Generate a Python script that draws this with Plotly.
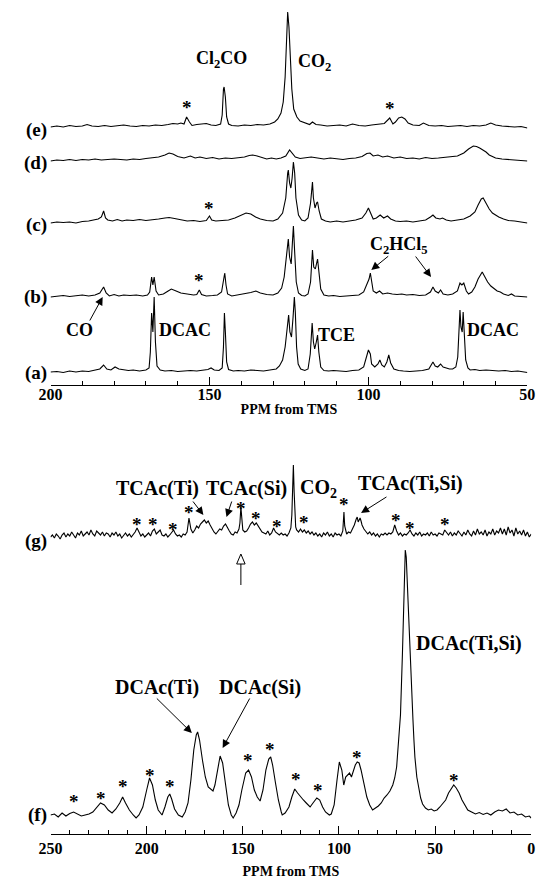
import plotly.graph_objects as go

# ---------------- data (ppm, intensity above each trace's baseline) ----------------
E_PPM = [200,198,196,194,192,190,188.5,187,185,183,181,179,177,175,173,171,169,167,165,163,161.5,160,159,158,157.2,156.3,155.5,154,152.5,151,149.5,148,146.5,146,145.6,145.4,145.0,144.6,144,143,141,139,137,135,133,131,129.5,128.5,127.5,126.8,126.2,125.8,125.4,125.0,124.6,124.1,123.5,122.5,121.5,120,118.5,117.6,116.5,115,113,111,109,107,105,103,101,99,97,95,93.3,92.3,91.5,90.5,89.5,88.5,87.5,86,84,82.7,81,79,77,75,73,71,69,67,65,63,61.5,60,58,56,54,52,50]
E_INT = [0,1,0,1.5,0.5,1,2.5,1,0.5,1.5,0.5,1,2,1,0.5,1.5,1,2,1.5,2.5,3.5,3,4,3,10,5,1.5,2.5,3,3.5,2,1.5,3,12,38,40,30,10,3,1.5,1,2,1.5,2.5,2,3,5,8,14,25,50,85,115,100,70,38,18,10,6,4,2.5,5,2.5,2,1,1.5,2,1,3,1.5,1,2,2.5,3.5,9,3,5,9,10,8,4,2,1.5,4,1.5,1,1.5,0.5,1,1.5,0.5,1.5,1,2,4,2,1,0.5,0,0.5,-1]

D_PPM = [200,198,196,194,192,190,188,186,184,182,180,178,176,174,172,170,168,166,164,162.7,161.5,160,158,156,154.5,153,151,149,147,145,143,141,139,137.5,136.4,135,133.5,132,130.5,129,127.5,126,124.8,124,123,121.5,120,118,116,114,112,110,108,106,104,102,100.5,99.5,98.5,97,95.5,94,92,90,88,86,84,82,80,78,76,74,72,70,68.5,67,66,65,64,63,62,61,60,58,56,54,52,50]
D_INT = [0,1,0.5,1.5,0.5,1.5,1,2,1,1.5,2,1.5,1,2,1.5,2.5,3,4,6,8,7,4.5,3,5,3,4,2.5,3.5,2,3,2.5,3,4,5.5,6,5,3.5,2,3,2,3,5,11,8,4,2.5,3,4,3,2,3,2,1.5,2.5,3,4.5,7.5,8,5,6,4,5,3,4,2.5,3,2,3.5,2.5,3,3.5,4,5,8,12,15,14.5,13,11,9,6,4.5,3,2,1.5,1,0.5,0]

C_PPM = [200,198,196,194,192,190,188,186,185,184,183.3,182.7,182,180.5,179,177.5,176,174,172,170,168,166,164,162.7,161,159,157,155,153,151,150,149.3,148,146,144,142,140,138.5,137,135.5,134,132,130,128.5,127,126,125.4,125.2,124.8,124.4,124,123.6,123.2,122.8,122,121,120,119,118.2,117.8,117.6,117.3,116.8,116.3,116,115.5,114.8,113.5,112,110,108,106,104,102,100.8,100,99.4,98.5,97.5,96.3,95.2,94,93,91.5,90,88,86,84,82,80.5,79.7,78.8,77.5,76.7,75.5,74,72,70,68,66.5,65.5,64.5,63.9,63,62,61,60,59,57.5,56,54,52,50]
C_INT = [0,1,0.5,1,0,1.5,2,3,4,6,12,5,3,2,3.5,2,3,2.5,3.5,2.5,3,4,5,5.5,4.5,3,2,2.5,1.5,2.5,7,3,2,2.5,3,5,7.5,10,9,6,4,2.5,2,4,10,25,50,53,40,35,45,61,50,25,8,3,2,5,20,38,41,25,15,20,21,12,4,2,1,2,1,2,3,5,10,15,10,4,5,8,5,7,4,2,1.5,2,1,2,3,6,8,5,4,5,3,2,3,4,7,11,18,24,25,20,14,10,8,6,4,2.5,2,1,0]

B_PPM = [200,198,196,194,192,190,188,186,184.5,183.3,182.5,181.5,180,178.5,177,175,173,171,169.5,168.8,168.2,167.8,167.4,166.8,166,164.5,163,162,160.5,159,157,155,154,153.2,152.5,151,149,147.5,146.2,145.6,145.2,144.8,144.3,143,141,139,137,135.4,134,132,130,128.5,127.3,126.5,125.6,125.2,124.8,124.3,123.9,123.6,123.2,122.7,122,121,120,119,118.2,117.9,117.6,117.2,116.7,116,115.6,115,114,112.5,111,109,107,105,103,101.5,100.5,99.8,99.4,99,98.5,97.5,96.5,95.5,94,92.5,91,89.5,88,86,84,82,80.5,79.7,79,78,77.3,76.5,75,73.5,72,71.2,70.6,70,69.2,68.5,67.5,66.5,65.5,64.2,63.5,62.5,61.5,60.5,59.5,58.5,57.5,56,55,54,52,50]
B_INT = [0,0.5,1.5,0.5,1,2,1,2,4,10,4,1,2.5,1,2,1.5,2,1,2,5,20,12,20,6,2,3,6,8,6,4,3,2,2.5,7,2.5,1,1.5,2,5,18,24,12,3,1,2,3,4.5,6,4,2.5,2,4,9,20,45,58,40,33,55,71,45,15,4,1.5,1,3,15,35,47,30,28,38,25,8,2,1,1.5,0.5,1,1.5,2,5,12,18,24,15,6,4,6,3,4,3,2.5,3,2,2.5,1.5,2,5,10,6,4,7,3,2,3,6,14,12,14,6,3,5,10,18,25,21,15,11,8,6,5,3,1.5,3,1,0.5,0]

A_PPM = [200,198,196,194,192,190,188,186,184.5,183.3,182.3,181,179.7,178.5,177,175.5,174,172,170,169,168.6,168.2,167.8,167.4,167.0,166.5,165.5,164,162,160,158,156,154,152,150.5,149.5,148.5,147,146,145.6,145.3,145.0,144.6,144,142.5,141,139,137,135,133,131,129,128,127,126.2,125.6,125.1,124.7,124.2,123.7,123.3,123.0,122.6,122.1,121.3,120,119,118.3,118,117.7,117.3,116.9,116.4,116.0,115.6,115,114,112.5,111,109,107,105,103,101.5,100.5,100,99.4,99,98,97,96.4,95.8,95,94.2,93.6,93,92,90.5,89,87,85,83,81,80.3,79.7,79,78.2,77.3,76.5,75.5,74.5,73.5,72.5,71.9,71.5,71.2,70.9,70.5,70.2,69.8,69.4,68.7,68,66.5,65,63,61,59,57,55,53,51,50]
A_INT = [0,0.5,-0.5,1,0,1,0.5,1.5,3,7,3,2,5,3,2,1.5,2,1,2,4,20,59,40,75,30,6,2,1,1.5,0.5,1,1.5,1,2,2.5,4,2,1.5,4,25,59,40,10,2.5,1,1.5,1,2,1.5,1,2,3,6,12,25,45,57,40,35,55,75,60,25,8,3,1.5,3,18,40,49,30,23,30,37,20,5,1.5,1,1.5,1,0.5,1.5,2,5,15,22,18,8,5,8,12,7,5,10,17,9,3,1.5,1,0.5,1,1.5,3,7,10,6,5,8,5,4,3,3,5,15,45,62,45,40,60,35,12,4,2,2.5,1.5,2,1.5,1,1.5,0.5,1,0,-0.5]

F_PPM = [250,248,246,244,242,240,238,236,234,232,230,228,226,224,222,220,218,216,214,212.5,211,209,207,205.5,204,202,200,198.5,197,195.5,194,192,190.5,189,188,187,185.5,183.5,181.5,180,178.5,177,175.5,174.2,173.5,172.5,171,169.5,168,166.5,165.5,164.5,163,161.8,160.5,159,157.5,156,155,153.5,152,150.5,148.5,147,145.5,144,142.5,141,139.5,138,136.5,135.5,134.5,133,131.5,130,129.5,128,126,124.5,123,121.5,120,118.5,117,115,113.5,111.5,110,108.5,107,105,104,102.5,101,99.8,98.5,97.5,96.5,95.5,94.5,93.5,92.5,91.5,90.5,89.5,88.5,87,85.5,84,82.5,81,79.5,78,76.5,75,73.5,72,71,70,69,68,67,66.2,65.5,65,64.3,63.5,62.5,61.5,61,60.5,59.5,58.5,57.5,56.5,55,53.5,52,50.5,49,47.5,46,44.5,43,41.5,40.3,39,37.5,36,34.5,33,31,29,27,25,23,21,19,17,15,13,11,9,7,5,3,1,0]
F_INT = [0,1,-2,2,-1,1.5,3,1,-1,0,1,3,7,12,10,5,2,6,12,18,12,5,0,-3,0,8,25,37,30,15,5,0,8,18,21,16,6,0,-2,3,12,35,65,80,83,75,55,38,28,25,24,30,48,59,52,30,10,0,-3,2,10,25,42,45,38,25,18,14,25,45,56,58,50,32,15,3,0,2,8,18,26,22,18,15,12,8,12,17,15,8,3,0,1,10,35,53,45,30,38,40,42,38,45,50,53,52,45,30,18,10,5,7,9,12,17,20,24,30,37,48,70,100,160,225,265,258,225,175,125,95,75,58,38,26,17,11,7,5,6,4,5,8,11,15,22,27,30,27,22,15,10,5,3,1,2.5,0.5,2,0,3,5,4,6,2,3,0,1,-2,-1,-3]

G_PPM = (
    [250,249,248,247,246,245,244,243,242,241]
    + [240,239,238,237,236,235,234,233,232,231]
    + [230,229,228,227,226,225,224,223,222,221]
    + [220,219,218,217,216,215,214,213,212,211]
    + [210,209,208,207,206,205,204,203,202,201]
    + [200,199,198,197,196,195,194,193,192,191]
    + [190,189,188,187,186,185,184,183,182,181]
    + [180,179,178,177,176,175,174,173,172,171]
    + [170,169,168,167,166,165,164,163,162,161]
    + [160,159,158,157,156,155,154,153,152,151.5,151,150.5]
    + [150,149,148,147,146,145,144,143,142,141]
    + [140,139,138,137,136,135,134,133,132,131]
    + [130,129,128,127,126,125,124.5,124,123.7,123.3,123,122.5,122,121]
    + [120,119,118,117,116,115,114,113,112,111]
    + [110,109,108,107,106,105,104,103,102,101]
    + [100,99,98,97.7,97.4,97,96,95,94,93,92,91,90.5,90,89,88.5,88,87,86]
    + [85,84,83,82,81,80,79,78,77,76]
    + [75,74,73,72,71,70,69,68,67,66]
    + [65,64,63,62,61,60,59,58,57,56]
    + [55,54,53,52,51,50,49,48,47,46]
    + [45,44,43,42,41,40,39,38,37,36]
    + [35,34,33,32,31,30,29,28,27,26]
    + [25,24,23,22,21,20,19,18,17,16]
    + [15,14,13,12,11,10,9,8,7,6]
    + [5,4,3,2,1,0]
)
G_INT = (
    [0,2,-1,3,1,-2,2,4,0,3]
    + [1,5,2,-1,4,2,6,1,3,5]
    + [2,7,3,1,6,4,2,5,1,4]
    + [3,0,4,2,5,1,3,-1,2,4]
    + [1,3,0,2,5,9,4,1,3,0]
    + [2,4,1,6,8,3,5,7,2,1]
    + [3,0,2,4,7,3,1,2,0,3]
    + [2,5,19,8,4,7,11,9,13,15]
    + [17,14,16,12,8,5,3,5,8,7]
    + [11,13,9,6,3,2,5,4,8,14,30,12]
    + [7,5,6,9,13,15,12,14,11,7]
    + [5,4,3,6,2,4,9,5,3,2]
    + [4,2,3,1,4,9,22,60,72,45,20,10,7,5]
    + [8,5,7,4,6,3,5,2,4,1]
    + [3,0,4,2,5,1,3,0,4,2]
    + [3,1,6,14,25,11,3,5,4,8,12,18,20,15,19,16,12,8,5]
    + [3,5,2,4,1,3,0,3,2,4]
    + [2,4,3,5,12,6,2,4,1,3]
    + [2,4,7,3,1,4,2,5,1,3]
    + [2,4,1,5,2,3,1,4,3,2]
    + [7,4,2,5,1,4,2,6,3,1]
    + [5,2,7,3,1,6,2,8,3,5]
    + [2,7,1,5,3,8,2,6,4,9]
    + [3,8,2,10,4,7,1,9,3,6]
    + [2,7,1,5,0,3]
)

TOP_TICKS = [200, 150, 100, 50]
BOTTOM_TICKS = [250, 200, 150, 100, 50, 0]
TRACE_LABELS = ["(e)", "(d)", "(c)", "(b)", "(a)", "(g)", "(f)"]

# ---------------- layout helpers ----------------
W, H = 545, 880
SERIF = "Liberation Serif"
TOP_OFF = {"a": 13, "b": 88, "c": 162, "d": 224, "e": 258}
BOT_OFF = {"f": 19, "g": 297}

fig = go.Figure()


def add(xs, ys, off, xa, ya):
    fig.add_trace(go.Scatter(x=xs, y=[v + off for v in ys], mode="lines",
                             line=dict(color="black", width=1.1),
                             xaxis=xa, yaxis=ya, hoverinfo="skip", showlegend=False))


add(A_PPM, A_INT, TOP_OFF["a"], "x", "y")
add(B_PPM, B_INT, TOP_OFF["b"], "x", "y")
add(C_PPM, C_INT, TOP_OFF["c"], "x", "y")
add(D_PPM, D_INT, TOP_OFF["d"], "x", "y")
add(E_PPM, E_INT, TOP_OFF["e"], "x", "y")
add(F_PPM, F_INT, BOT_OFF["f"], "x2", "y2")
add(G_PPM, G_INT, BOT_OFF["g"], "x2", "y2")

top_font = dict(family=SERIF, size=18, color="black", weight="bold")
bot_font = dict(family=SERIF, size=20, color="black", weight="bold")
trace_font = dict(family=SERIF, size=19, color="black", weight="bold")
star_font = dict(family=SERIF, size=19, color="black", weight="bold")
ann = []


def text(x, y, t, xr="x", yr="y", anchor="center", font=top_font):
    ann.append(dict(x=x, y=y, xref=xr, yref=yr, text=t, showarrow=False,
                    xanchor=anchor, yanchor="middle", font=font))


def arrow(tx, ty, hx, hy, xr="x", yr="y"):
    ann.append(dict(x=hx, y=hy, ax=tx, ay=ty, xref=xr, yref=yr, axref=xr, ayref=yr,
                    text="", showarrow=True, arrowhead=2, arrowsize=1.6,
                    arrowwidth=1, arrowcolor="black"))


def star(x, y, xr="x", yr="y"):
    text(x, y - 5, "*", xr, yr, font=star_font)


# top panel labels
text(146.1, 326, "Cl<sub>2</sub>CO")
text(122.7, 323, "CO<sub>2</sub>", anchor="left")
text(157.6, 55, "DCAC")
text(110, 50, "TCE")
text(60.9, 55, "DCAC")
text(90.3, 140, "C<sub>2</sub>HCl<sub>5</sub>")
text(190.9, 55, "CO")
for sx, sy in [(157, 283), (93.3, 282), (150, 182), (153.3, 110)]:
    star(sx, sy)
arrow(187.9, 63, 183.6, 88)
arrow(93.3, 130, 99.1, 115)
arrow(85.5, 130, 80.3, 108)

# bottom panel labels
text(194.5, 346, "TCAc(Ti)", "x2", "y2", font=bot_font)
text(148, 346, "TCAc(Si)", "x2", "y2", font=bot_font)
text(121.5, 346, "CO<sub>2</sub>", "x2", "y2", anchor="left", font=bot_font)
text(63, 351, "TCAc(Ti,Si)", "x2", "y2", font=bot_font)
arrow(176.5, 334, 170.5, 319, "x2", "y2")
arrow(155.5, 334, 158.5, 317, "x2", "y2")
arrow(74.5, 338, 88.5, 321, "x2", "y2")
for sx, sy in [(205, 315), (196.5, 315), (186.5, 310), (178, 327), (151, 331), (143, 321),
               (132, 313), (118, 317), (97.5, 335), (70.5, 319), (63, 311), (45, 315)]:
    star(sx, sy, "x2", "y2")
for sx, sy in [(238, 38), (224, 41), (212.5, 53), (198.5, 64), (188, 53), (147.5, 79),
               (136, 90), (122.5, 60), (111, 49), (90.5, 82), (40, 59)]:
    star(sx, sy, "x2", "y2")
text(194.5, 147, "DCAc(Ti)", "x2", "y2", font=bot_font)
text(141, 147, "DCAc(Si)", "x2", "y2", font=bot_font)
text(61, 191, "DCAc(Ti,Si)", "x2", "y2", anchor="left", font=bot_font)
arrow(195.5, 137, 176.5, 101, "x2", "y2")
arrow(146, 137, 160.5, 86, "x2", "y2")

# trace labels
for lab, ypx in zip(TRACE_LABELS, [130, 163, 225, 297, 373, 541, 815]):
    ann.append(dict(x=38 / W, y=1 - ypx / H, xref="paper", yref="paper", text=lab,
                    showarrow=False, xanchor="right", yanchor="middle", font=trace_font))

# open arrow under (g)
shapes = [
    dict(type="line", xref="x2", yref="y2", x0=151, x1=151, y0=249, y1=270,
         line=dict(color="black", width=1)),
    dict(type="path", xref="x2", yref="y2", path="M 148.8 270 L 153.2 270 L 151 280 Z",
         line=dict(color="black", width=1), fillcolor="white"),
]

tickfont = dict(family=SERIF, size=16, color="black", weight="bold")
titlefont = dict(family=SERIF, size=14, color="black", weight="bold")
common_x = dict(showline=True, linecolor="black", linewidth=1.2, ticks="inside",
                ticklen=8, tickwidth=1, tickcolor="black", showgrid=False,
                zeroline=False, tickfont=tickfont,
                minor=dict(dtick=10, ticks="inside", ticklen=4, tickcolor="black", showgrid=False))

fig.update_layout(
    width=W, height=H, margin=dict(l=0, r=0, t=0, b=0),
    paper_bgcolor="white", plot_bgcolor="white", showlegend=False,
    xaxis=dict(domain=[40 / W, 535 / W], range=[200, 50], anchor="y",
               tickvals=TOP_TICKS, ticktext=[str(v) for v in TOP_TICKS],
               ticklabelstandoff=-5,
               title=dict(text="PPM from TMS", font=titlefont, standoff=1), **common_x),
    yaxis=dict(domain=[1 - 385 / H, 1], range=[0, 385], visible=False),
    xaxis2=dict(domain=[40 / W, 539 / W], range=[250, 0], anchor="y2",
                tickvals=BOTTOM_TICKS, ticktext=[str(v) for v in BOTTOM_TICKS],
                title=dict(text="PPM from TMS", font=titlefont, standoff=9), **common_x),
    yaxis2=dict(domain=[1 - 834 / H, 1 - 440 / H], range=[0, 394], visible=False),
    annotations=ann, shapes=shapes,
)

fig.write_html("out.html")
